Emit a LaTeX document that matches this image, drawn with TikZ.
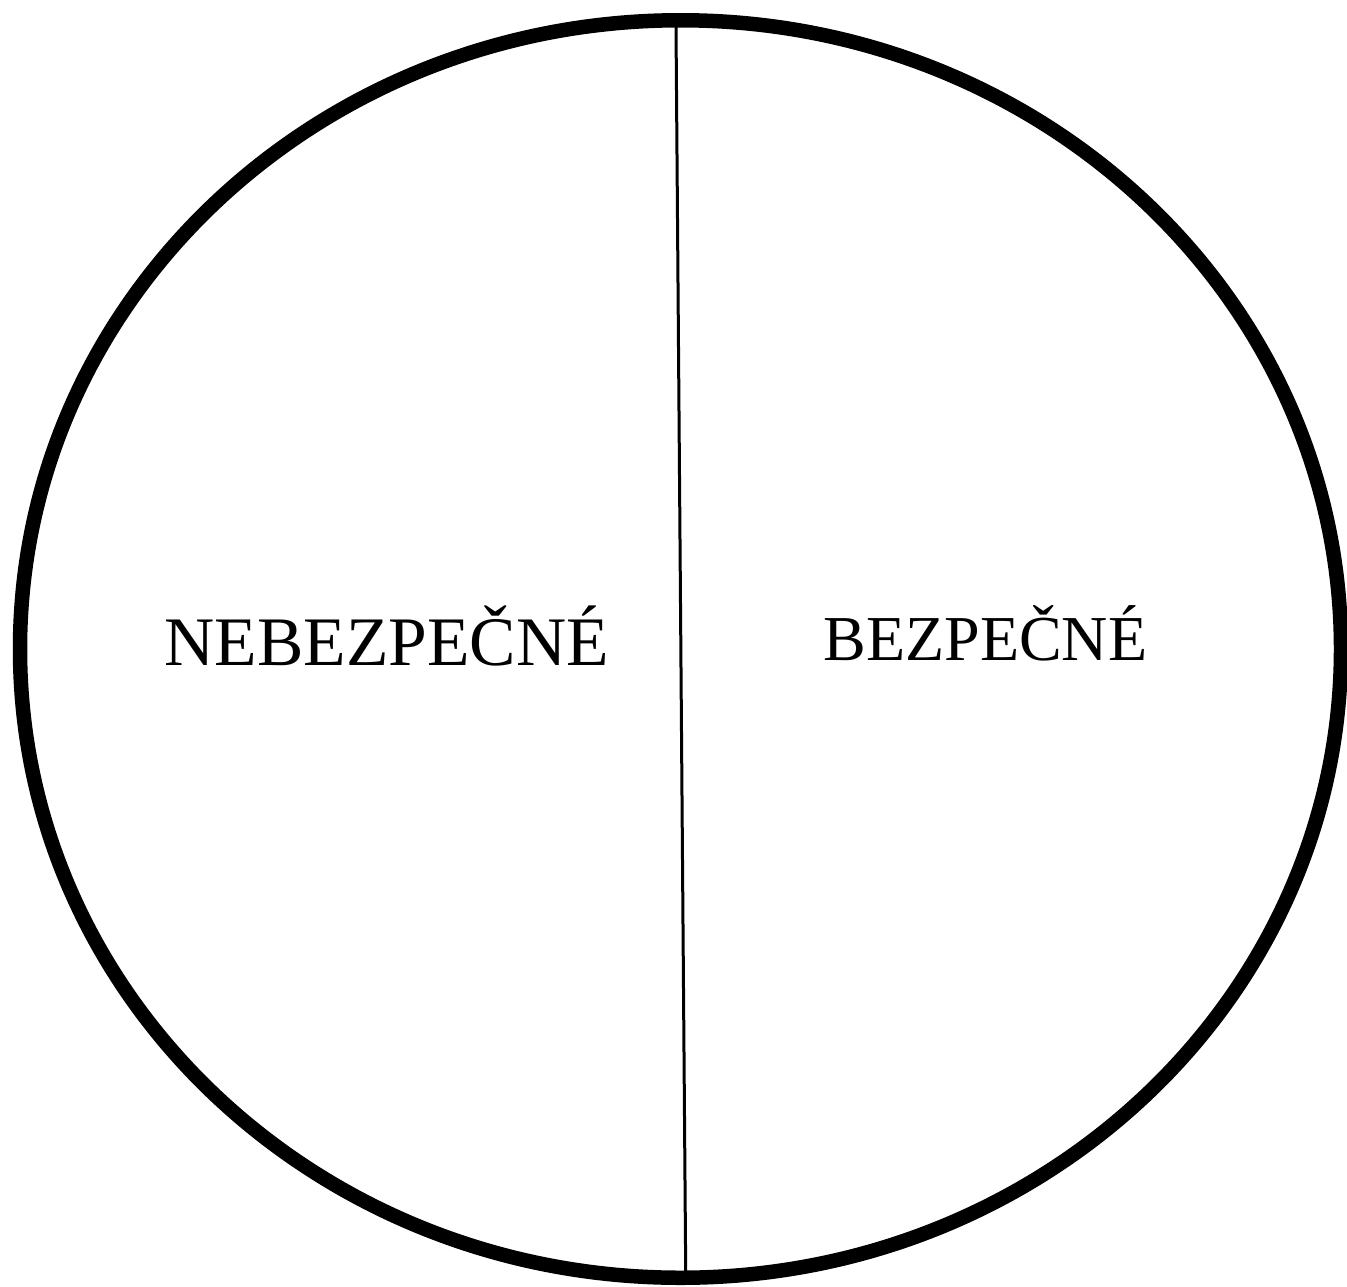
\documentclass[tikz,border=0pt]{standalone}
\usepackage{fontspec}
\setmainfont{Liberation Serif}
\usetikzlibrary{shapes.geometric}
\begin{document}
\begin{tikzpicture}[x=1pt,y=-1pt,
  rim/.style={draw=black, line width=14.5pt, ellipse, inner sep=0pt, minimum width=1321pt, minimum height=1257.5pt},
  divider/.style={draw=black, line width=3pt},
  lbl/.style={anchor=base, inner sep=0pt}]
\useasboundingbox (0,0) rectangle (1347,1286);
\node[rim] (circ) at (680.5,649) {};
\coordinate (top) at (676,27);
\coordinate (bot) at (685.7,1271);
\draw[divider] (top) -- (bot);
\node[lbl, font=\fontsize{69.5}{71}\selectfont] (left) at (386.7,665) {NEBEZPEČNÉ};
\node[lbl, font=\fontsize{64}{66}\selectfont] (right) at (985.5,660) {BEZPEČNÉ};
\end{tikzpicture}
\end{document}
